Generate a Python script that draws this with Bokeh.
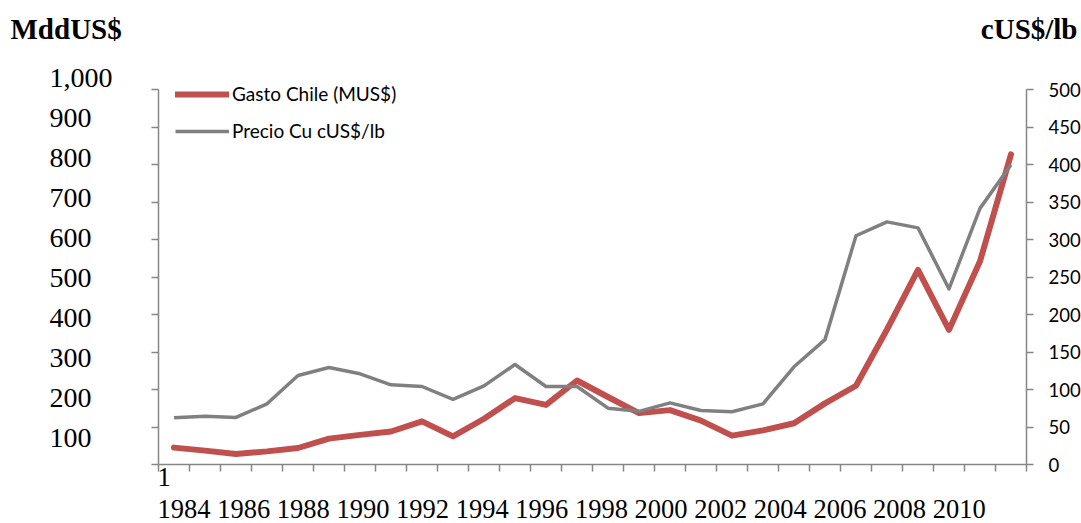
from bokeh.plotting import figure
from bokeh.models import (Range1d, LinearAxis, FixedTicker, Label, LabelSet,
                          ColumnDataSource, Legend, LegendItem)
from bokeh.embed import file_html
from bokeh.resources import INLINE
from bokeh.core.properties import value

# ---------------- data ----------------
years = list(range(1984, 2012))
gasto = [45, 37, 28, 35, 44, 69, 79, 88, 115, 75, 122, 177, 159, 224, 180, 137,
         145, 117, 77, 91, 110, 163, 210, 360, 519, 359, 542, 827]
precio = [62.3, 64.4, 62.7, 80.9, 118.7, 129.3, 120.9, 106.2, 104.0, 86.7, 104.9,
          133.3, 104.0, 104.0, 75.1, 70.9, 82.2, 72.0, 70.4, 80.9, 130.3, 166.5,
          305.0, 323.5, 315.5, 234.2, 341.5, 399.8]
left_ticks = [0, 100, 200, 300, 400, 500, 600, 700, 800, 900, 1000]
left_tick_labels = ["100", "200", "300", "400", "500", "600", "700", "800", "900", "1,000"]
left_label_values = [100, 200, 300, 400, 500, 600, 700, 800, 900, 1000]
right_ticks = [0, 50, 100, 150, 200, 250, 300, 350, 400, 450, 500]
year_labels = [str(y) for y in years[::2]]
series_names = ["Gasto Chile (MUS$)", "Precio Cu cUS$/lb"]
left_title = "MddUS$"
right_title = "cUS$/lb"
first_cat = "1"

# ---------------- layout constants (pixels) ----------------
W, H = 1081, 523
PL, PR, PT, PB = 158, 1026, 89, 464          # plot area edges
LAB_TOP, LAB_PITCH = 77.5, 40.0              # left text column: 1,000 centre, pitch per 100

RED = "#C0504D"
GRAY = "#808080"
AXIS = "#868686"
SERIF = "Liberation Serif"
SANS = "Lato"

x0, x1 = years[0] - 0.5, years[-1] + 0.5
xs = (PR - PL) / (x1 - x0)
ys_main = (PB - PT) / 1000.0
ys_price = (PB - PT) / 500.0
ys_lab = LAB_PITCH / 100.0
lab_zero = LAB_TOP + 1000 * ys_lab

p = figure(width=W, height=H, output_backend="svg", toolbar_location=None,
           x_range=Range1d(x0 - PL / xs, x1 + (W - PR) / xs),
           y_range=Range1d(-(H - PB) / ys_main, 1000 + PT / ys_main),
           min_border=0)
p.extra_y_ranges = {
    "price": Range1d(-(H - PB) / ys_price, 500 + PT / ys_price),
    "lab": Range1d(-(H - lab_zero) / ys_lab, lab_zero / ys_lab),
}
p.outline_line_color = None
p.xgrid.visible = False
p.ygrid.visible = False
p.background_fill_color = "white"
p.border_fill_color = "white"

xt = [y - 0.5 for y in years] + [years[-1] + 0.5]
p.xaxis.ticker = FixedTicker(ticks=xt)
p.xaxis.major_label_overrides = {t: "" for t in xt}
p.xaxis.fixed_location = 0
p.xaxis.bounds = (x0, x1)
p.yaxis.ticker = FixedTicker(ticks=left_ticks)
p.yaxis.major_label_overrides = {t: "" for t in left_ticks}
p.yaxis.fixed_location = x0
p.yaxis.bounds = (0, 1000)

ra = LinearAxis(y_range_name="price", ticker=FixedTicker(ticks=right_ticks),
                fixed_location=x1, bounds=(0, 500))
ra.major_label_text_font = SANS
ra.major_label_text_font_size = "18.5px"
ra.major_label_text_color = "black"
ra.major_label_standoff = 15
p.add_layout(ra, "right")

for ax in [p.xaxis[0], p.yaxis[0], ra]:
    ax.axis_line_color = AXIS
    ax.axis_line_width = 1.5
    ax.major_tick_line_color = AXIS
    ax.major_tick_line_width = 1.5
    ax.major_tick_out = 7
    ax.major_tick_in = 0
    ax.minor_tick_line_color = None
for ax in [p.xaxis[0], p.yaxis[0]]:
    ax.major_label_text_color = None
    ax.major_label_standoff = 0

r1 = p.line(years, gasto, line_color=RED, line_width=6, line_join="round", line_cap="round")
r2 = p.line(years, precio, y_range_name="price", line_color=GRAY, line_width=3.5,
            line_join="round")

leg = Legend(items=[LegendItem(label=series_names[0], renderers=[r1]),
                    LegendItem(label=series_names[1], renderers=[r2])],
             location=(175, H - 142), orientation="vertical")
leg.border_line_color = None
leg.background_fill_alpha = 0
leg.padding = 0
leg.margin = 0
leg.spacing = 14
leg.glyph_width = 54
leg.glyph_height = 18
leg.label_height = 18
leg.label_standoff = 3
leg.label_text_font = SANS
leg.label_text_font_size = "19px"
leg.label_text_color = "black"
p.add_layout(leg, "center")

# left value labels: text column of the original (pitch 40px, left-aligned)
src = ColumnDataSource(dict(y=left_label_values, t=left_tick_labels))
p.add_layout(LabelSet(x=49, y="y", text="t", source=src, x_units="screen",
                      y_range_name="lab", text_font=value(SERIF),
                      text_font_size="28px", text_align="left",
                      text_baseline="middle", text_color="black"))


def lab(text, x, y, align="left", size="26.5px", bold=False):
    p.add_layout(Label(x=x, y=H - y, x_units="screen", y_units="screen", text=text,
                       text_font=SERIF, text_font_size=size, text_align=align,
                       text_baseline="middle",
                       text_font_style="bold" if bold else "normal",
                       text_color="black"))


lab(left_title, 10, 28, size="29px", bold=True)
lab(right_title, 1077, 28, align="right", size="29px", bold=True)
lab(first_cat, 157, 476)
lab(" ".join(year_labels), 157, 508)

open("out.html", "w").write(file_html(p, INLINE))
